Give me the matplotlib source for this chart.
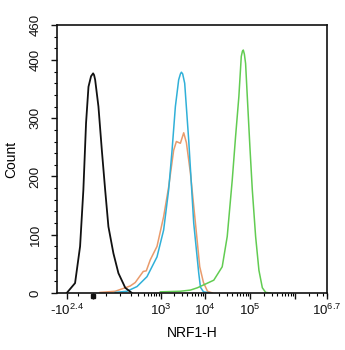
import numpy as np
import matplotlib
matplotlib.use("Agg")
import matplotlib.pyplot as plt
from matplotlib.ticker import FixedLocator, FixedFormatter, MultipleLocator
import matplotlib.transforms as mtransforms

plt.rcParams["font.family"] = ["Liberation Sans", "DejaVu Sans"]
plt.rcParams["mathtext.fontset"] = "custom"
plt.rcParams["mathtext.rm"] = "Liberation Sans"
plt.rcParams["mathtext.it"] = "Liberation Sans:italic"
plt.rcParams["mathtext.bf"] = "Liberation Sans:bold"

# NRF1-H fluorescence intensity (x) and event count (y) for each histogram
isotype_x = [-256, -136, -85, -58, -39, -24, -10, 0, 1.7, 3.6, 10.3, 18.5, 28, 39, 60, 87, 137, 206]
isotype_y = [0, 17, 80, 177, 292, 354, 372, 377, 374, 366, 320, 245, 177, 114, 68, 34, 9, 0]

cyan_x = [69, 152, 276, 482, 826, 1171, 1523, 1818, 2159, 2562, 2800, 2946, 3150, 3494, 4297, 5554, 7187, 7844, 9151, 13100]
cyan_y = [1, 3, 11, 28, 62, 108, 177, 245, 320, 366, 376, 379, 376, 360, 262, 120, 34, 10, 2, 0]

orange_x = [14, 69, 186, 250, 333, 393, 464, 577, 826, 1171, 1523, 1976, 2274, 2797, 3320, 3815, 4687, 6065, 7564, 9151, 11240, 14520]
orange_y = [1, 3, 12, 18, 30, 37, 38, 57, 80, 131, 182, 245, 260, 257, 275, 258, 206, 120, 45, 18, 3, 0]

green_x = [984, 2797, 4687, 6722, 9293, 15520, 23870, 30840, 39850, 47180, 55860, 63170, 67000, 70010, 74000, 78750, 85910, 98110, 110950, 131340, 155500, 185100, 219100, 283000]
green_y = [2, 3, 5, 9, 14, 22, 45, 97, 194, 268, 337, 406, 415, 417, 410, 394, 337, 251, 177, 97, 39, 9, 1, 0]

x_major = [-10**2.4, 0, 1e3, 1e4, 1e5, 1e6, 10**6.7]
x_major_labels = [r"$\mathregular{\text{-}10^{2.4}}$", "", r"$\mathregular{10^{3}}$",
                  r"$\mathregular{10^{4}}$", r"$\mathregular{10^{5}}$", "",
                  r"$\mathregular{10^{6.7}}$"]
y_major = [0, 100, 200, 300, 400, 460]


# biexponential-like display transform (log above, compressed near zero)
def fwd(x):
    x = np.asarray(x, dtype=float)
    return np.where(x >= 0, np.log10(1 + np.maximum(x, 0) / 33.0),
                    -np.log10(1 + np.maximum(-x, 0) / 90.0))


def inv(u):
    u = np.asarray(u, dtype=float)
    return np.where(u >= 0, 33.0 * (10 ** np.maximum(u, 0) - 1),
                    -90.0 * (10 ** np.maximum(-u, 0) - 1))


fig = plt.figure(figsize=(3.45, 3.5), dpi=100)
ax = fig.add_axes([57 / 345, 57 / 350, 270 / 345, 268 / 350])
ax.set_xscale("function", functions=(fwd, inv))

ax.plot(orange_x, orange_y, color="#e99b6c", lw=1.1)
ax.plot(cyan_x, cyan_y, color="#30b0d8", lw=1.1)
ax.plot(green_x, green_y, color="#62cc52", lw=1.1)
ax.plot(isotype_x, isotype_y, color="#111111", lw=1.3)

ax.set_xlim(-478, 10**6.7)
ax.set_ylim(0, 460)

minor = [-100, 30, 100]
for e in range(2, 7):
    for k in range(2, 10):
        v = k * 10**e
        if v < 10**6.7:
            minor.append(v)
ax.xaxis.set_major_locator(FixedLocator(x_major))
ax.xaxis.set_major_formatter(FixedFormatter(x_major_labels))
ax.xaxis.set_minor_locator(FixedLocator(minor))

ax.yaxis.set_major_locator(FixedLocator(y_major))
ax.yaxis.set_minor_locator(MultipleLocator(20))

ax.tick_params(axis="both", which="major", direction="out", length=4, width=1,
               labelsize=9.5, colors="#111111")
ax.tick_params(axis="both", which="minor", direction="out", length=2.5, width=0.8)
ax.tick_params(axis="x", which="major", pad=3)
ax.tick_params(axis="y", which="major", pad=7)
for lab in ax.get_yticklabels():
    lab.set_rotation(90)
    lab.set_va("center")

for s in ax.spines.values():
    s.set_linewidth(1.2)
    s.set_color("#111111")

# zero marker on the x axis
trans = mtransforms.blended_transform_factory(ax.transData, ax.transAxes)
ax.plot([0], [-0.012], marker="s", ms=3.5, color="#111111", transform=trans,
        clip_on=False)

ax.set_xlabel("NRF1-H", fontsize=10, labelpad=6)
ax.set_ylabel("Count", fontsize=10, labelpad=8)

fig.savefig("out.png", dpi=100)
